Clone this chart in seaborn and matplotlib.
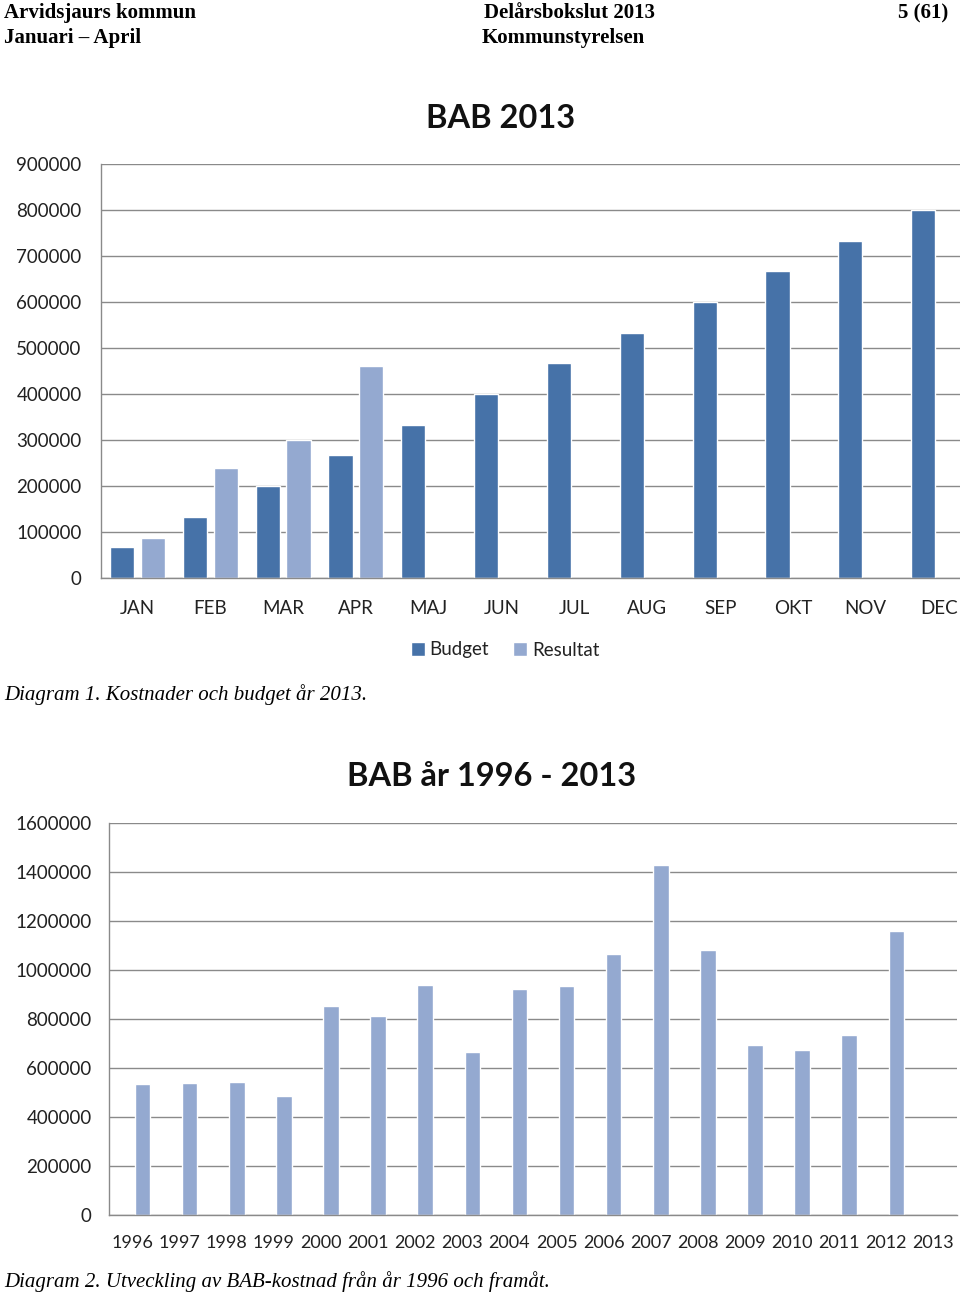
import numpy as np
import pandas as pd
import matplotlib
matplotlib.use("Agg")
import matplotlib.pyplot as plt
import seaborn as sns

# Diagram 1: BAB 2013, budget vs resultat per månad
months = ["JAN", "FEB", "MAR", "APR", "MAJ", "JUN", "JUL", "AUG", "SEP", "OKT", "NOV", "DEC"]
budget = [66667, 133333, 200000, 266667, 333333, 400000, 466667, 533333, 600000, 666667, 733333, 800000]
resultat = [86000, 240000, 301000, 461000, np.nan, np.nan, np.nan, np.nan, np.nan, np.nan, np.nan, np.nan]

# Diagram 2: BAB år 1996 - 2013
years = [str(y) for y in range(1996, 2014)]
bab_kostnad = [534000, 538000, 542000, 485000, 855000, 813000, 939000, 664000, 922000,
               934000, 1067000, 1427000, 1080000, 693000, 672000, 735000, 1159000, np.nan]

c_budget = "#4672A8"
c_result = "#94A9D0"
grid_c = "#8A8A8A"

sns.set_style("white")
plt.rcParams["font.family"] = ["Lato", "DejaVu Sans"]

W, H = 960, 1294
fig = plt.figure(figsize=(W / 100, H / 100), dpi=100)


def px_axes(x0, y0, x1, y1):
    return fig.add_axes([x0 / W, 1 - y1 / H, (x1 - x0) / W, (y1 - y0) / H])


def style_axes(ax, ymax, step, ypad, xpad, xsize):
    ax.set_ylim(0, ymax)
    ax.set_yticks(np.arange(0, ymax + 1, step))
    ax.set_yticklabels([str(int(v)) for v in np.arange(0, ymax + 1, step)])
    ax.yaxis.grid(True, color=grid_c, lw=1)
    ax.set_axisbelow(True)
    for s in ["top", "right"]:
        ax.spines[s].set_visible(False)
    for s in ["left", "bottom"]:
        ax.spines[s].set_color(grid_c)
        ax.spines[s].set_linewidth(1)
    ax.tick_params(axis="y", length=0, pad=ypad, labelsize=13.5, labelcolor="#222222")
    ax.tick_params(axis="x", length=0, pad=xpad, labelsize=xsize, labelcolor="#222222")
    ax.set_xlabel("")
    ax.set_ylabel("")


# ---- Diagram 1 ----
df1 = pd.DataFrame({
    "month": months * 2,
    "value": budget + resultat,
    "serie": ["Budget"] * len(months) + ["Resultat"] * len(months),
})
ax1 = px_axes(101, 164, 975, 578)
sns.barplot(data=df1, x="month", y="value", hue="serie", hue_order=["Budget", "Resultat"],
            palette=[c_budget, c_result], width=0.85, gap=0.22, saturation=1,
            order=months, ax=ax1, legend=True)
ax1.set_xlim(-0.5, len(months) - 0.5)
style_axes(ax1, 900000, 100000, 14, 15.5, 13.5)
handles, labels = ax1.get_legend_handles_labels()
ax1.get_legend().remove()
fig.legend(handles, labels, loc="center", bbox_to_anchor=(505 / W, 1 - 650 / H),
           ncol=2, frameon=False, fontsize=13.5, handlelength=0.75, handleheight=0.75,
           handletextpad=0.25, columnspacing=1.3, labelcolor="#222222")
fig.text(501 / W, 1 - 119 / H, "BAB 2013", ha="center", va="center",
         fontsize=23.5, fontweight="bold", color="#111111")

# ---- Diagram 2 ----
# the chart keeps an empty first series, so the bars sit right of each year
df2 = pd.DataFrame({"year": years, "value": bab_kostnad, "serie": ["Resultat"] * len(years)})
ax2 = px_axes(109, 823, 957, 1215)
sns.barplot(data=df2, x="year", y="value", hue="serie", hue_order=["Budget", "Resultat"],
            palette=[c_budget, c_result], width=0.85, gap=0.22, saturation=1,
            dodge=True, order=years, ax=ax2, legend=False)
ax2.set_xlim(-0.5, len(years) - 0.5)
style_axes(ax2, 1600000, 200000, 12.5, 14.5, 13)
fig.text(492 / W, 1 - 777 / H, "BAB år 1996 - 2013", ha="center", va="center",
         fontsize=23.5, fontweight="bold", color="#111111")

# ---- sidhuvud och bildtexter ----
serif_b = dict(family=["Liberation Serif", "DejaVu Serif"], fontweight="bold", fontsize=15, color="black")
fig.text(4 / W, 1 - 13 / H, "Arvidsjaurs kommun", ha="left", va="center", **serif_b)
fig.text(4 / W, 1 - 38 / H, "Januari – April", ha="left", va="center", **serif_b)
fig.text(570 / W, 1 - 13 / H, "Delårsbokslut 2013", ha="center", va="center", **serif_b)
fig.text(563 / W, 1 - 38 / H, "Kommunstyrelsen", ha="center", va="center", **serif_b)
fig.text(948 / W, 1 - 13 / H, "5 (61)", ha="right", va="center", **serif_b)

serif_i = dict(family=["Liberation Serif", "DejaVu Serif"], style="italic", fontsize=15, color="black")
fig.text(4 / W, 1 - 695 / H, "Diagram 1. Kostnader och budget år 2013.", ha="left", va="center", **serif_i)
fig.text(4 / W, 1 - 1282 / H, "Diagram 2. Utveckling av BAB-kostnad från år 1996 och framåt.",
         ha="left", va="center", **serif_i)

fig.savefig("out.png", dpi=100)
